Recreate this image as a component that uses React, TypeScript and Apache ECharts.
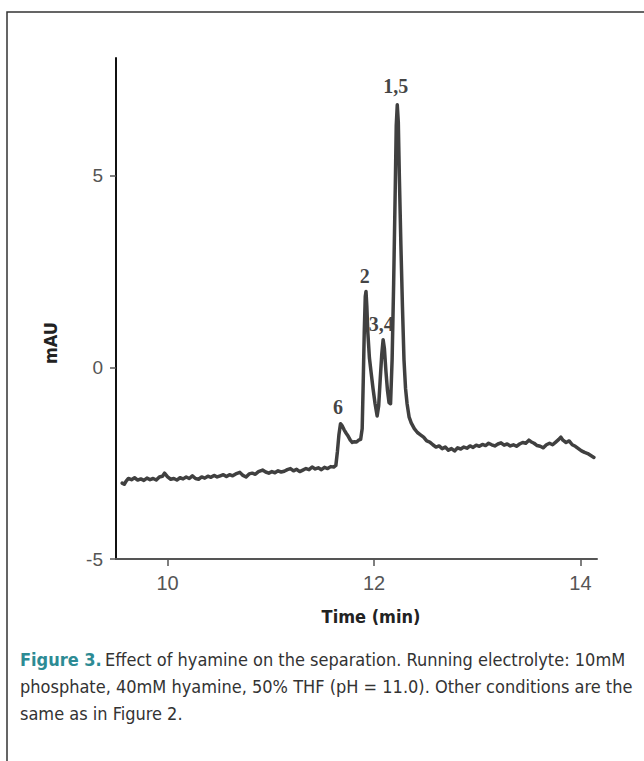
import React, { useEffect, useRef } from "react";
import * as echarts from "echarts";

const times = [
  9.56, 9.58, 9.6, 9.62, 9.65, 9.68, 9.71, 9.74, 9.77, 9.8, 9.83, 9.86, 9.89, 9.92, 9.95, 9.97,
  10.0, 10.03, 10.06, 10.09, 10.12, 10.15, 10.18, 10.21, 10.24, 10.27, 10.3, 10.33, 10.36, 10.39,
  10.42, 10.45, 10.48, 10.51, 10.54, 10.57, 10.6, 10.63, 10.66, 10.7, 10.73, 10.76, 10.79, 10.82,
  10.85, 10.88, 10.92, 10.95, 10.98, 11.01, 11.04, 11.07, 11.1, 11.13, 11.16, 11.19, 11.22, 11.25,
  11.28, 11.31, 11.34, 11.37, 11.4, 11.43, 11.46, 11.49, 11.52, 11.55, 11.58, 11.61, 11.63, 11.645,
  11.66, 11.675, 11.69, 11.71, 11.73, 11.75, 11.77, 11.79, 11.81, 11.83, 11.85, 11.87, 11.885, 11.895,
  11.905, 11.915, 11.922, 11.93, 11.94, 11.955, 11.97, 11.99, 12.01, 12.03, 12.045, 12.06, 12.075,
  12.088, 12.1, 12.115, 12.13, 12.145, 12.16, 12.175, 12.19, 12.205, 12.215, 12.225, 12.235, 12.245,
  12.26, 12.275, 12.29, 12.305, 12.32, 12.34, 12.36, 12.39, 12.42, 12.45, 12.48, 12.51, 12.54, 12.57,
  12.6, 12.63, 12.66, 12.69, 12.72, 12.75, 12.78, 12.81, 12.84, 12.87, 12.9, 12.93, 12.96, 12.99,
  13.02, 13.05, 13.08, 13.11, 13.14, 13.17, 13.2, 13.23, 13.26, 13.29, 13.32, 13.35, 13.38, 13.41,
  13.44, 13.47, 13.5, 13.52, 13.55, 13.58, 13.61, 13.64, 13.67, 13.7, 13.73, 13.76, 13.79, 13.81,
  13.83, 13.86, 13.89, 13.92, 13.95, 13.98, 14.01, 14.04, 14.07, 14.1, 14.13,
];

const mAU = [
  -3.02, -3.05, -2.96, -2.9, -2.93, -2.88, -2.94, -2.91, -2.95, -2.89, -2.93, -2.9, -2.94, -2.86, -2.84, -2.76,
  -2.86, -2.92, -2.9, -2.94, -2.88, -2.91, -2.86, -2.9, -2.83, -2.9, -2.92, -2.86, -2.89, -2.84,
  -2.87, -2.82, -2.86, -2.83, -2.8, -2.85, -2.8, -2.83, -2.78, -2.74, -2.82, -2.86, -2.78, -2.76,
  -2.79, -2.72, -2.68, -2.73, -2.76, -2.72, -2.75, -2.7, -2.73, -2.71, -2.67, -2.64, -2.7, -2.66,
  -2.72, -2.68, -2.64, -2.67, -2.6, -2.65, -2.62, -2.67, -2.61, -2.64, -2.59, -2.6, -2.56, -2.2,
  -1.75, -1.47, -1.52, -1.63, -1.72, -1.8, -1.9, -1.96, -1.94, -1.95, -1.9, -1.88, -1.6, -0.4,
  0.9, 1.85, 1.98, 1.6, 0.9, 0.25, -0.1, -0.55, -0.95, -1.27, -1.0, -0.3, 0.35,
  0.72, 0.5, -0.1, -0.6, -0.92, -0.95, 0.2, 2.2, 4.6, 6.3, 6.85, 6.4, 5.0,
  3.2, 1.6, 0.2, -0.55, -0.95, -1.3, -1.45, -1.6, -1.7, -1.76, -1.82, -1.92, -1.95, -2.02,
  -2.08, -2.05, -2.12, -2.08, -2.16, -2.12, -2.18, -2.1, -2.13, -2.08, -2.11, -2.05, -2.09, -2.03,
  -2.06, -2.01, -2.04, -1.98, -2.02, -2.05, -2.0, -1.97, -2.03, -2.0, -2.05, -2.02, -2.06, -2.0,
  -1.96, -1.98, -1.9, -1.94, -1.98, -2.04, -2.06, -2.1, -2.02, -1.98, -2.02, -1.95, -1.88, -1.82,
  -1.9, -1.96, -1.92, -2.02, -2.06, -2.12, -2.18, -2.22, -2.25, -2.3, -2.35,
];

const peakNames = ["1,5", "2", "3,4", "6"];
const peakLabelTimes = [12.21, 11.91, 12.07, 11.65];
const peakLabelValues = [7.34, 2.37, 1.12, -1.04];

const xTicks = [10, 12, 14];
const yTicks = [-5, 0, 5];

const yTitle = "mAU";
const xTitle = "Time (min)";
const captionLines = [
  "{b|Figure 3.} {n|Effect of hyamine on the separation. Running electrolyte: 10mM}",
  "{n|phosphate, 40mM hyamine, 50% THF (pH = 11.0). Other conditions are the}",
  "{n|same as in Figure 2.}",
];

const condensed = "'Liberation Sans Narrow', 'DejaVu Sans Condensed', 'Roboto Condensed', 'Open Sans', sans-serif";

export default function App() {
  const ref = useRef<HTMLDivElement>(null);
  useEffect(() => {
    document.body.style.margin = "0";
    const chart = echarts.init(ref.current!, null, { renderer: "svg" });
    chart.setOption({
      animation: false,
      backgroundColor: "#ffffff",
      grid: { left: 116, right: 47, top: 58, bottom: 202, containLabel: false },
      xAxis: {
        type: "value",
        min: 9.5,
        max: 14.16,
        axisLine: { onZero: false, lineStyle: { color: "#555", width: 2 } },
        axisTick: { customValues: xTicks, length: 7, lineStyle: { color: "#555", width: 1.5 } },
        axisLabel: { customValues: xTicks, color: "#555", fontSize: 20, fontFamily: "'Liberation Sans', Arial, sans-serif", margin: 14 },
        splitLine: { show: false },
      },
      yAxis: {
        type: "value",
        min: -5,
        max: 8.07,
        axisLine: { show: true, onZero: false, lineStyle: { color: "#111", width: 2 } },
        axisTick: { show: true, customValues: yTicks, length: 6, lineStyle: { color: "#555", width: 1.5 } },
        axisLabel: { customValues: yTicks, color: "#555", fontSize: 19, fontFamily: "'Liberation Sans', Arial, sans-serif", margin: 13 },
        splitLine: { show: false },
      },
      series: [
        {
          type: "line",
          data: times.map((t, i) => [t, mAU[i]]),
          showSymbol: false,
          symbol: "none",
          lineStyle: { color: "#404040", width: 3.5, join: "round", cap: "round" },
        },
        {
          type: "scatter",
          data: peakNames.map((n, i) => ({ name: n, value: [peakLabelTimes[i], peakLabelValues[i]] })),
          symbolSize: 0.1,
          itemStyle: { color: "rgba(0,0,0,0)" },
          label: {
            show: true,
            position: "inside",
            formatter: "{b}",
            fontFamily: "'Liberation Serif', 'Times New Roman', serif",
            fontWeight: "bold",
            fontSize: 20,
            color: "#111",
          },
        },
      ],
      graphic: [
        {
          type: "rect",
          shape: { x: 7, y: 12, width: 700, height: 800 },
          style: { fill: "none", stroke: "#333", lineWidth: 1.5 },
          silent: true,
        },
        {
          type: "text",
          x: 50,
          y: 343,
          rotation: Math.PI / 2,
          style: {
            text: yTitle,
            font: `bold 18px ${condensed}`,
            fill: "#222",
            textAlign: "center",
            textVerticalAlign: "middle",
          },
        },
        {
          type: "text",
          x: 371,
          y: 616,
          style: {
            text: xTitle,
            font: `bold 18px ${condensed}`,
            fill: "#222",
            textAlign: "center",
            textVerticalAlign: "middle",
          },
        },
        ...captionLines.map((line, i) => ({
          type: "text",
          x: 20,
          y: 659 + i * 27,
          style: {
            text: line,
            textVerticalAlign: "middle",
            rich: {
              b: { font: `bold 18px ${condensed}`, fill: "#2d8b94", fontWeight: "bold", fontSize: 18, fontFamily: condensed, color: "#2d8b94" },
              n: { font: `18px ${condensed}`, fill: "#333", fontSize: 18, fontFamily: condensed, color: "#333" },
            },
          },
        })),
      ],
    });
    return () => chart.dispose();
  }, []);
  return <div ref={ref} style={{ width: 644, height: 761, background: "#fff" }} />;
}
